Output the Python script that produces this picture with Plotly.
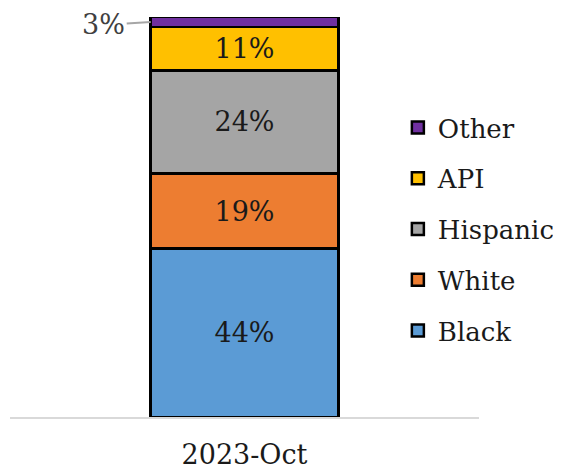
import plotly.graph_objects as go

categories = ["2023-Oct"]
groups = ["Black", "White", "Hispanic", "API", "Other"]
values = [42.5, 19, 26, 11, 2.5]          # bar heights
labels = ["44%", "19%", "24%", "11%", "3%"]  # data labels as printed
colors = ["#5B9BD5", "#ED7D31", "#A5A5A5", "#FFC000", "#7030A0"]

FONT = "DejaVu Serif"

fig = go.Figure()
n = len(groups)
for i, (g, v, lab, c) in enumerate(zip(groups, values, labels, colors)):
    fig.add_trace(go.Bar(
        x=categories, y=[v], name=g,
        marker=dict(color=c, line=dict(color="#000000", width=2.5)),
        text=[lab if g != "Other" else ""],
        textposition="inside", insidetextanchor="middle", textangle=0,
        textfont=dict(family=FONT, size=27, color="#1a1a1a"),
        width=0.4, legendgroup=g, legendrank=n - i,
        hoverinfo="name+y",
    ))

total = sum(values)
fig.add_annotation(
    x=-0.2, y=total - values[-1] / 2, xref="x", yref="y",
    text=labels[-1], showarrow=True, arrowhead=0, arrowwidth=2,
    arrowcolor="#a6a6a6", ax=-47, ay=3,
    font=dict(family=FONT, size=27, color="#404040"),
)

fig.update_layout(
    width=553, height=462,
    barmode="stack",
    margin=dict(l=2, r=82, t=9, b=53, autoexpand=False),
    paper_bgcolor="white", plot_bgcolor="white",
    showlegend=True,
    legend=dict(
        x=0.827, xanchor="left", y=0.7825, yanchor="top",
        traceorder="grouped", tracegroupgap=14,
        font=dict(family=FONT, size=26, color="#1a1a1a"),
        bgcolor="rgba(0,0,0,0)",
    ),
    xaxis=dict(
        showline=True, linecolor="#d9d9d9", linewidth=2,
        ticks="", showgrid=False,
        tickfont=dict(family=FONT, size=27, color="#1a1a1a"),
        ticklabelstandoff=13,
    ),
    yaxis=dict(range=[0, total], visible=False, showgrid=False),
)

fig.write_html("out.html")
